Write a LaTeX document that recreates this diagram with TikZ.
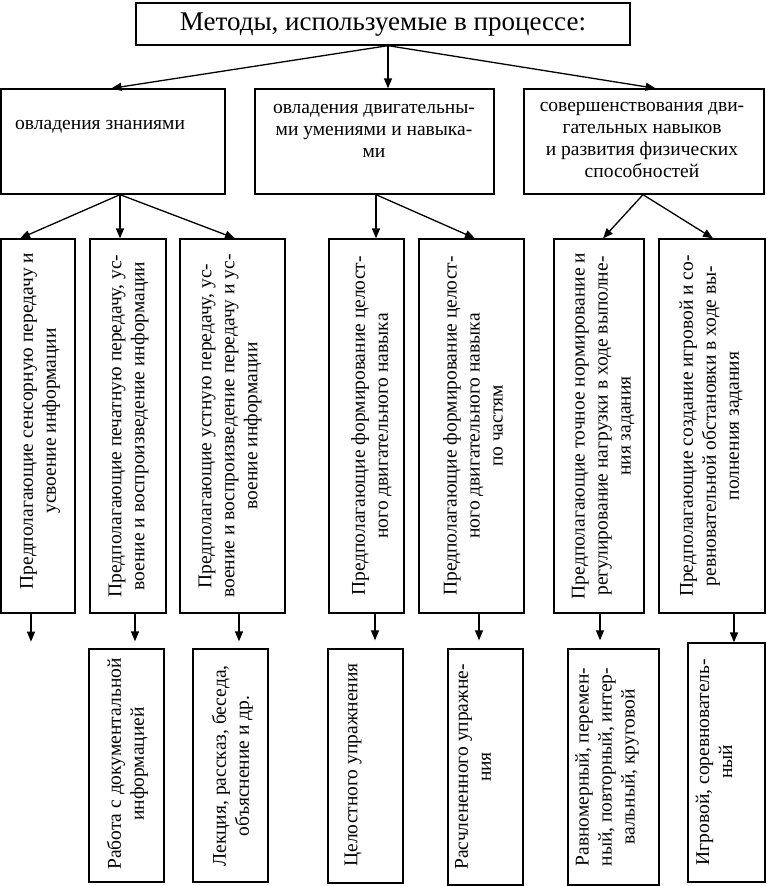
\documentclass[tikz,border=0pt]{standalone}
\usepackage{fontspec}
\setmainfont{Liberation Serif}
\usetikzlibrary{arrows.meta,calc}
\begin{document}
\begin{tikzpicture}[x=1pt,y=-1pt,
  box/.style={draw, line width=1.3pt, inner sep=0pt},
  ttext/.style={font=\fontsize{27}{30}\selectfont, inner sep=0pt},
  htext/.style={font=\fontsize{19.5}{22}\selectfont, align=center, inner sep=0pt},
  vtext/.style={font=\fontsize{19.5}{23}\selectfont, align=center, inner sep=0pt, rotate=90},
  arr/.style={line width=1.3pt, -{Triangle[length=10pt,width=8pt]}}]
\useasboundingbox (0,0) rectangle (767,886);

% boxes
\node[box, minimum width=494pt, minimum height=42pt] (T) at (383,24) {};
\node[box, minimum width=224pt, minimum height=105pt] (L1) at (113,141.5) {};
\node[box, minimum width=239pt, minimum height=105pt] (L2) at (374.5,141.5) {};
\node[box, minimum width=240pt, minimum height=105pt] (L3) at (644,141.5) {};
\node[box, minimum width=74pt, minimum height=374pt] (A) at (38,426) {};
\node[box, minimum width=76pt, minimum height=374pt] (B) at (128,426) {};
\node[box, minimum width=105pt, minimum height=374pt] (C) at (232.5,426) {};
\node[box, minimum width=75pt, minimum height=374pt] (D) at (366.5,426) {};
\node[box, minimum width=105pt, minimum height=374pt] (E) at (471.5,426) {};
\node[box, minimum width=90pt, minimum height=374pt] (F) at (599,426) {};
\node[box, minimum width=106pt, minimum height=374pt] (G) at (712,426) {};
\node[box, minimum width=75pt, minimum height=233pt] (Bp) at (126.5,765.5) {};
\node[box, minimum width=75pt, minimum height=233pt] (Cp) at (230.5,765.5) {};
\node[box, minimum width=75pt, minimum height=234pt] (Dp) at (365.5,766) {};
\node[box, minimum width=75pt, minimum height=236pt] (Ep) at (485.5,767) {};
\node[box, minimum width=91pt, minimum height=236pt] (Fp) at (613.5,767) {};
\node[box, minimum width=77pt, minimum height=239pt] (Gp) at (726.5,762.5) {};

% texts
\node[ttext] (Tt) at (383,25) {Методы, используемые в процессе:};
\node[htext, anchor=west] (L1t) at (15,127) {овладения знаниями};
\node[htext] (L2t) at (374,130.5) {овладения двигательны-\\ми умениями и навыка-\\ми};
\node[htext] (L3t) at (642,140) {совершенствования дви-\\гательных навыков\\и развития физических\\способностей};
\node[vtext] (At) at (40,421) {Предполагающие сенсорную передачу и\\усвоение информации};
\node[vtext] (Bt) at (128.5,426) {Предполагающие печатную передачу, ус-\\воение и воспроизведение информации};
\node[vtext] (Ct) at (230,426) {Предполагающие устную передачу, ус-\\воение и воспроизведение передачу и ус-\\воение информации};
\node[vtext] (Dt) at (371.5,426) {Предполагающие формирование целост-\\ного двигательного навыка};
\node[vtext] (Et) at (473,426) {Предполагающие формирование целост-\\ного двигательного навыка\\по частям};
\node[vtext] (Ft) at (603,426) {Предполагающие точное нормирование и\\регулирование нагрузки в ходе выполне-\\ния задания};
\node[vtext] (Gt) at (711,426) {Предполагающие создание игровой и со-\\ревновательной обстановки в ходе вы-\\полнения задания};
\node[vtext] (Bpt) at (127.5,764) {Работа с документальной\\информацией};
\node[vtext] (Cpt) at (232.5,766) {Лекция, рассказ, беседа,\\объяснение и др.};
\node[vtext] (Dpt) at (353,765) {Целостного упражнения};
\node[vtext] (Ept) at (473,767) {Расчлененного упражне-\\ния};
\node[vtext] (Fpt) at (607,767) {Равномерный, перемен-\\ный, повторный, интер-\\вальный, круговой};
\node[vtext] (Gpt) at (714,762) {Игровой, соревнователь-\\ный};

% connector start points
\coordinate (Ts) at ($(T.south)+(5,0)$);
\coordinate (L1s) at ($(L1.south)+(7,0)$);
\coordinate (L2s) at ($(L2.south)+(1.5,0)$);
\coordinate (L3s) at ($(L3.south)+(-1,0)$);
\coordinate (As) at ($(A.south)+(-7,0)$);
\coordinate (Aend) at ($(A.south)+(-7,28)$);
\coordinate (Bs) at ($(B.south)+(7,0)$);
\coordinate (Cs) at ($(C.south)+(6.5,0)$);
\coordinate (Ds) at ($(D.south)+(8.5,0)$);
\coordinate (Es) at ($(E.south)+(7.5,0)$);
\coordinate (Fs) at ($(F.south)+(1,0)$);
\coordinate (Gs) at ($(G.south)+(22,0)$);

% level 1 -> 2
\draw[arr] (Ts) -- ($(L1.north)+(-1.5,0)$);
\draw[arr] (Ts) -- (Ts |- L2.north);
\draw[arr] (Ts) -- ($(L3.north)+(11.6,0)$);
% level 2 -> 3
\draw[arr] (L1s) -- ($(A.north)+(-18,0)$);
\draw[arr] (L1s) -- (L1s |- B.north);
\draw[arr] (L1s) -- ($(C.north)+(2.5,0)$);
\draw[arr] (L2s) -- (L2s |- D.north);
\draw[arr] (L2s) -- ($(E.north)+(3.5,0)$);
\draw[arr] (L3s) -- ($(F.north)+(4,0)$);
\draw[arr] (L3s) -- ($(G.north)+(1,0)$);
% level 3 -> 4
\draw[arr] (As) -- (Aend);
\draw[arr, shorten >=7pt] (Bs) -- (Bs |- Bp.north);
\draw[arr, shorten >=7pt] (Cs) -- (Cs |- Cp.north);
\draw[arr, shorten >=8pt] (Ds) -- (Ds |- Dp.north);
\draw[arr, shorten >=8pt] (Es) -- (Es |- Ep.north);
\draw[arr, shorten >=8pt] (Fs) -- (Fs |- Fp.north);
\draw[arr] (Gs) -- (Gs |- Gp.north);
\end{tikzpicture}
\end{document}
